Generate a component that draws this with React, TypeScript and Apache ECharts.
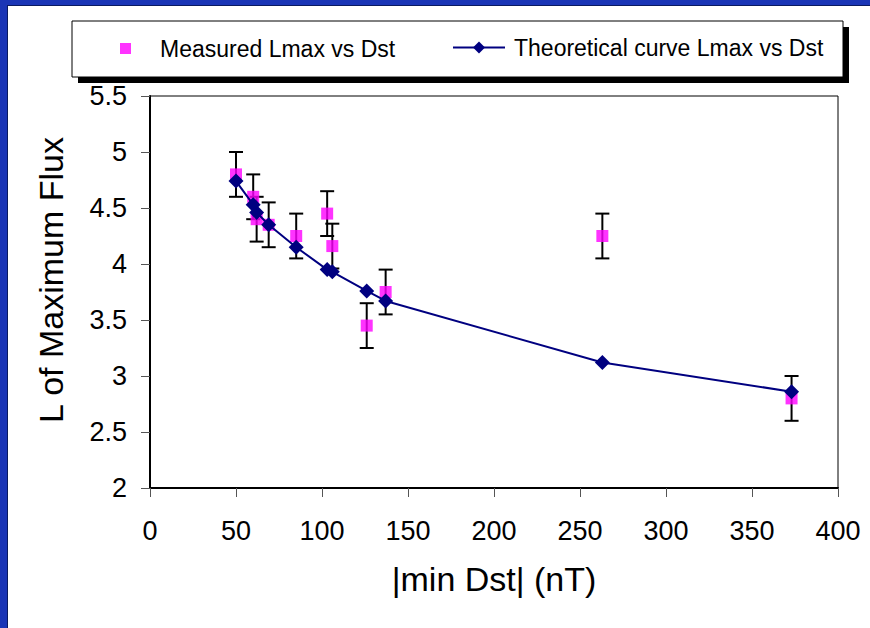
import React, { useEffect, useRef } from "react";
import * as echarts from "echarts";

// |min Dst| (nT) for each storm
const dstValues = [50, 60, 62, 69, 85, 103, 106, 126, 137, 263, 373];
// Measured L of maximum flux
const measuredL = [4.8, 4.6, 4.4, 4.35, 4.25, 4.45, 4.16, 3.45, 3.75, 4.25, 2.8];
// Error on measured values
const measuredErr = [0.2, 0.2, 0.2, 0.2, 0.2, 0.2, 0.2, 0.2, 0.2, 0.2, 0.2];
// Theoretical curve
const theoreticalL = [4.74, 4.53, 4.46, 4.35, 4.15, 3.95, 3.93, 3.76, 3.67, 3.12, 2.86];

const seriesNames = ["Measured Lmax vs Dst", "Theoretical curve Lmax vs Dst"];
const xTitle = "|min Dst| (nT)";
const yTitle = "L of Maximum Flux";

const FONT = "'Liberation Sans', Arial, Helvetica, sans-serif";

export default function App() {
  const ref = useRef<HTMLDivElement>(null);
  useEffect(() => {
    if (!ref.current) return;
    const chart = echarts.init(ref.current, null, { renderer: "svg" });
    const errData = dstValues.map((x, i) => [
      x,
      measuredL[i],
      measuredL[i] - measuredErr[i],
      measuredL[i] + measuredErr[i],
    ]);
    const option: any = {
      animation: false,
      backgroundColor: "#ffffff",
      textStyle: { fontFamily: FONT },
      graphic: [
        { type: "rect", z: 0, shape: { x: 0, y: 0, width: 7, height: 628 }, style: { fill: "#1a35b6" } },
        { type: "rect", z: 0, shape: { x: 0, y: 0, width: 870, height: 5 }, style: { fill: "#1a35b6" } },
        { type: "rect", z: 0, shape: { x: 7, y: 5, width: 1, height: 623 }, style: { fill: "#0a1a60" } },
        { type: "rect", z: 0, shape: { x: 7, y: 5, width: 863, height: 1 }, style: { fill: "#0a1a60" } },
        { type: "rect", z: 0, shape: { x: 78, y: 27, width: 771, height: 56 }, style: { fill: "#000000" } },
        { type: "rect", z: 0, shape: { x: 72, y: 21, width: 771, height: 56 }, style: { fill: "#ffffff", stroke: "#000000", lineWidth: 1 } },
      ],
      legend: [
        {
          data: [seriesNames[0]],
          left: 120,
          top: 37,
          padding: 0,
          z: 10,
          icon: "rect",
          itemWidth: 11,
          itemHeight: 11,
          textStyle: { fontSize: 23, fontFamily: FONT, color: "#000", padding: [0, 0, 0, 24] },
        },
        {
          data: [seriesNames[1]],
          left: 452,
          top: 36,
          padding: 0,
          z: 10,
          itemWidth: 52,
          itemHeight: 15,
          textStyle: { fontSize: 23, fontFamily: FONT, color: "#000", padding: [0, 0, 0, 4] },
        },
      ],
      grid: {
        left: 150,
        right: 32,
        top: 96,
        bottom: 140,
        show: true,
        borderColor: "#000",
        borderWidth: 1,
        backgroundColor: "transparent",
      },
      xAxis: {
        type: "value",
        min: 0,
        max: 400,
        interval: 50,
        name: xTitle,
        nameLocation: "middle",
        nameGap: 74,
        nameTextStyle: { fontSize: 34, fontFamily: FONT, color: "#000" },
        axisLine: { show: true, onZero: false, lineStyle: { color: "#000", width: 2 } },
        axisTick: { show: true, inside: false, length: 9, lineStyle: { color: "#555", width: 1 } },
        axisLabel: { fontSize: 27, fontFamily: FONT, color: "#000", margin: 29 },
        splitLine: { show: false },
      },
      yAxis: {
        type: "value",
        min: 2,
        max: 5.5,
        interval: 0.5,
        name: yTitle,
        nameLocation: "middle",
        nameRotate: 90,
        nameGap: 82,
        nameTextStyle: { fontSize: 34, fontFamily: FONT, color: "#000", padding: [0, 0, 0, 24] },
        axisLine: { show: true, onZero: false, lineStyle: { color: "#000", width: 2 } },
        axisTick: { show: true, inside: false, length: 9, lineStyle: { color: "#555", width: 1 } },
        axisLabel: { fontSize: 27, fontFamily: FONT, color: "#000", margin: 23 },
        splitLine: { show: false },
      },
      series: [
        {
          type: "custom",
          name: "errors",
          z: 2,
          encode: { x: 0, y: [1, 2, 3] },
          data: errData,
          renderItem: (params: any, api: any) => {
            const x = api.value(0);
            const lo = api.value(2);
            const hi = api.value(3);
            const pHi = api.coord([x, hi]);
            const pLo = api.coord([x, lo]);
            const hw = 7;
            const st = { stroke: "#000", lineWidth: 2 };
            return {
              type: "group",
              children: [
                { type: "line", shape: { x1: pHi[0], y1: pHi[1], x2: pLo[0], y2: pLo[1] }, style: st },
                { type: "line", shape: { x1: pHi[0] - hw, y1: pHi[1], x2: pHi[0] + hw, y2: pHi[1] }, style: st },
                { type: "line", shape: { x1: pLo[0] - hw, y1: pLo[1], x2: pLo[0] + hw, y2: pLo[1] }, style: st },
              ],
            };
          },
        },
        {
          type: "scatter",
          name: seriesNames[0],
          z: 3,
          symbol: "rect",
          symbolSize: 12,
          itemStyle: { color: "#ff00ff" },
          data: dstValues.map((x, i) => [x, measuredL[i]]),
        },
        {
          type: "line",
          name: seriesNames[1],
          z: 4,
          symbol: "diamond",
          symbolSize: 15,
          showAllSymbol: true,
          lineStyle: { color: "#000080", width: 2 },
          itemStyle: { color: "#000080" },
          data: dstValues.map((x, i) => [x, theoreticalL[i]]),
        },
      ],
    };
    chart.setOption(option);
    return () => chart.dispose();
  }, []);
  return (
    <div
      ref={ref}
      style={{ position: "fixed", left: 0, top: 0, width: 870, height: 628, background: "#fff" }}
    />
  );
}
